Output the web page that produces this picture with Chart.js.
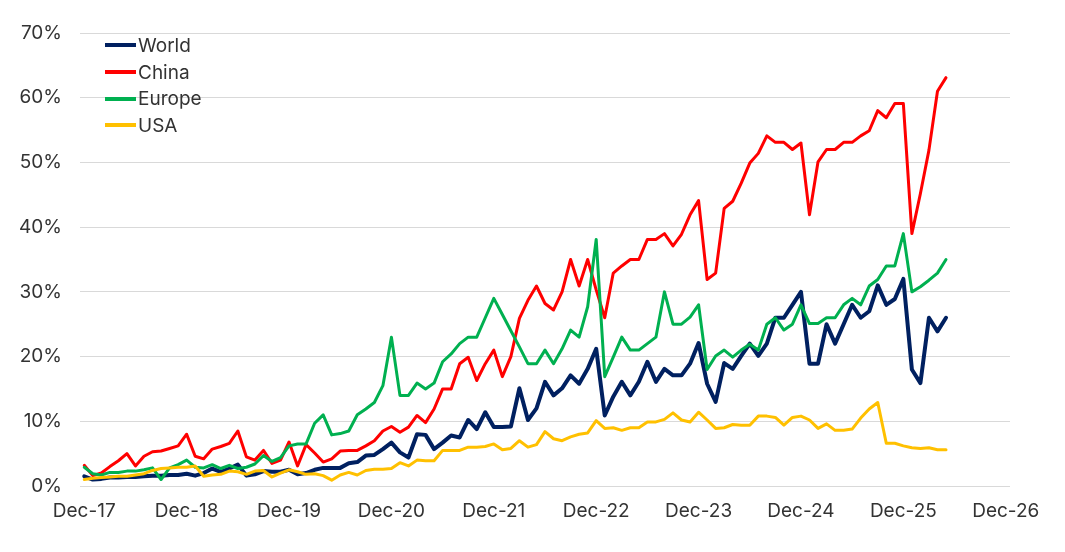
<!DOCTYPE html>
<html>
<head>
<meta charset="utf-8">
<script src="https://cdn.jsdelivr.net/npm/chart.js@4.4.1/dist/chart.umd.min.js"></script>
<style>
  body { margin: 0; background: #fff; }
  .wrap { position: relative; width: 1065px; height: 552px; }
  .legend { position: absolute; left: 105px; top: 32px; font: 19px Inter, sans-serif; color: #333; }
  .legend-row { display: flex; align-items: center; height: 26.7px; }
  .legend-line { width: 31px; height: 4px; margin-right: 2px; }
</style>
</head>
<body>
<div class="wrap">
  <canvas id="chart" width="1065" height="552"></canvas>
  <div class="legend" id="legend"></div>
</div>
<script>
// monthly shares, Dec-17 .. May-26 (in %)
const xTickLabels = ['Dec-17', 'Dec-18', 'Dec-19', 'Dec-20', 'Dec-21', 'Dec-22', 'Dec-23', 'Dec-24', 'Dec-25', 'Dec-26'];
const yTickStep = 10;

const world = [
  1.5, 1.0, 1.1, 1.3, 1.3, 1.4, 1.4, 1.5, 1.6, 1.6, 1.7, 1.7, 1.9, 1.6, 2.0, 2.7, 2.2, 2.7, 3.3, 1.6,
  1.8, 2.3, 2.2, 2.2, 2.5, 1.8, 2.0, 2.5, 2.8, 2.8, 2.8, 3.5, 3.7, 4.7, 4.8, 5.7, 6.7, 5.2, 4.4, 8.0,
  7.9, 5.7, 6.7, 7.8, 7.5, 10.2, 8.8, 11.4, 9.1, 9.1, 9.2, 15.1, 10.2, 12.0, 16.1, 14.0, 15.1, 17.1, 15.8, 18.1,
  21.2, 10.9, 13.8, 16.1, 14.0, 16.1, 19.2, 16.1, 18.1, 17.1, 17.1, 18.9, 22.1, 15.8, 13.0, 19.0, 18.1, 20.1, 22.0, 20.1,
  22.0, 26.0, 26.0, 28.0, 30.0, 18.9, 18.9, 25.0, 22.0, 25.0, 28.0, 26.0, 27.0, 31.0, 28.0, 28.9, 32.0, 18.0, 15.9, 26.0,
  23.9, 26.0
];
const china = [
  3.2, 1.6, 2.0, 3.0, 3.9, 5.0, 3.1, 4.6, 5.3, 5.4, 5.8, 6.2, 8.0, 4.6, 4.2, 5.7, 6.1, 6.6, 8.5, 4.5,
  4.0, 5.5, 3.5, 4.0, 6.8, 3.1, 6.4, 5.1, 3.7, 4.2, 5.4, 5.5, 5.5, 6.2, 7.0, 8.5, 9.2, 8.3, 9.1, 10.9,
  9.8, 11.9, 15.0, 15.0, 18.9, 19.9, 16.3, 18.9, 21.0, 16.9, 20.0, 25.9, 28.7, 30.9, 28.2, 27.2, 30.0, 35.0, 30.9, 35.0,
  30.3, 26.0, 32.9, 34.0, 35.0, 35.0, 38.1, 38.1, 39.0, 37.1, 38.9, 41.9, 44.1, 31.9, 32.9, 42.9, 44.0, 46.8, 49.9, 51.4,
  54.1, 53.1, 53.1, 52.0, 53.0, 41.9, 50.1, 52.0, 52.0, 53.1, 53.1, 54.1, 54.9, 58.0, 56.9, 59.1, 59.1, 39.0, 45.2, 51.9,
  61.0, 63.1
];
const europe = [
  2.9, 1.9, 1.7, 2.1, 2.1, 2.3, 2.3, 2.5, 2.8, 1.0, 2.8, 3.3, 4.0, 2.9, 2.8, 3.3, 2.7, 3.2, 2.7, 2.9,
  3.4, 4.7, 3.8, 4.4, 6.2, 6.5, 6.5, 9.7, 11.0, 7.9, 8.1, 8.5, 11.0, 11.9, 12.9, 15.5, 23.0, 14.0, 14.0, 15.9,
  15.0, 15.9, 19.2, 20.4, 22.0, 23.0, 23.0, 26.0, 29.0, 26.5, 24.0, 21.5, 18.9, 18.9, 21.0, 18.9, 21.2, 24.1, 23.0, 27.7,
  38.1, 16.9, 19.9, 23.0, 21.0, 21.0, 22.0, 23.0, 30.0, 25.0, 25.0, 26.1, 28.0, 18.0, 20.1, 21.0, 19.9, 21.0, 21.9, 21.0,
  25.0, 26.0, 24.1, 25.0, 28.0, 25.1, 25.1, 26.0, 26.0, 28.0, 29.0, 28.0, 30.9, 31.9, 34.0, 34.0, 39.0, 30.0, 30.8, 31.8,
  32.9, 35.0
];
const usa = [
  1.0, 1.2, 1.3, 1.4, 1.5, 1.5, 1.7, 1.9, 2.4, 2.7, 2.8, 2.9, 2.9, 3.1, 1.5, 1.7, 1.8, 2.3, 2.2, 1.8,
  2.3, 2.4, 1.4, 2.0, 2.5, 2.2, 1.8, 1.9, 1.6, 0.9, 1.7, 2.1, 1.7, 2.4, 2.6, 2.6, 2.7, 3.6, 3.1, 4.0,
  3.9, 3.9, 5.5, 5.5, 5.5, 6.0, 6.0, 6.1, 6.5, 5.6, 5.8, 7.0, 6.0, 6.4, 8.4, 7.3, 7.0, 7.6, 8.0, 8.2,
  10.1, 8.9, 9.0, 8.6, 9.0, 9.0, 9.9, 9.9, 10.3, 11.3, 10.2, 9.9, 11.4, 10.2, 8.9, 9.0, 9.5, 9.4, 9.4, 10.8,
  10.8, 10.6, 9.4, 10.6, 10.8, 10.2, 8.9, 9.6, 8.6, 8.6, 8.8, 10.5, 11.9, 12.9, 6.6, 6.6, 6.2, 5.9, 5.8, 5.9,
  5.6, 5.6
];

const series = [
  { label: 'World', data: world, color: '#002060', width: 4 },
  { label: 'China', data: china, color: '#FF0000', width: 3 },
  { label: 'Europe', data: europe, color: '#00B050', width: 3 },
  { label: 'USA', data: usa, color: '#FFC000', width: 3 },
];

const textColor = '#333333';
const font = { family: 'Inter, sans-serif', size: 19 };

const datasets = series.map((s, k) => ({
  label: s.label,
  data: s.data.map((v, i) => ({ x: i, y: v })),
  borderColor: s.color,
  backgroundColor: s.color,
  borderWidth: s.width,
  order: series.length - k,
}));

new Chart(document.getElementById('chart').getContext('2d'), {
  type: 'line',
  data: { datasets },
  options: {
    responsive: false,
    animation: false,
    layout: { padding: { top: 33, right: 55, bottom: 0, left: 0 } },
    plugins: { legend: { display: false }, tooltip: { enabled: false } },
    elements: {
      point: { radius: 0 },
      line: { tension: 0, borderJoinStyle: 'round', borderCapStyle: 'round' },
    },
    scales: {
      x: {
        type: 'linear',
        min: -0.5,
        max: (xTickLabels.length - 1) * 12 + 0.5,
        grid: { display: false, drawTicks: false },
        border: { display: false },
        afterBuildTicks: (scale) => {
          scale.ticks = xTickLabels.map((_, k) => ({ value: k * 12 }));
        },
        afterFit: (scale) => {
          scale.height = 66;
        },
        ticks: {
          autoSkip: false,
          maxRotation: 0,
          padding: 14,
          color: textColor,
          font,
          callback: (v) => xTickLabels[Math.round(v / 12)],
        },
      },
      y: {
        min: 0,
        max: 70,
        grid: { color: '#d9d9d9', lineWidth: 1, drawTicks: false },
        border: { display: false },
        afterFit: (scale) => {
          scale.width = 80;
        },
        ticks: {
          stepSize: yTickStep,
          padding: 18,
          color: textColor,
          font,
          callback: (v) => v + '%',
        },
      },
    },
  },
});

document.getElementById('legend').innerHTML = series
  .map(
    (s) =>
      `<div class="legend-row"><span class="legend-line" style="background:${s.color}"></span><span>${s.label}</span></div>`
  )
  .join('');
</script>
</body>
</html>
